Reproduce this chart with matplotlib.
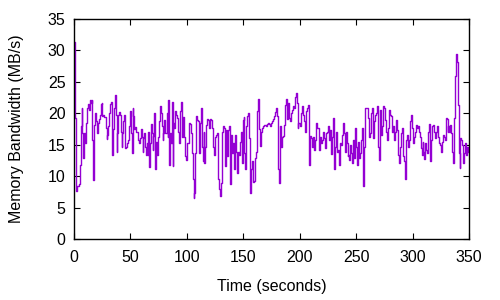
import numpy as np
import matplotlib
matplotlib.use("Agg")
import matplotlib.pyplot as plt

plt.rcParams['font.family'] = ['Liberation Sans', 'DejaVu Sans']

# Memory bandwidth samples (MB/s), in three time spans
bw_part1 = [31.3, 19.3, 7.6, 8.2, 8.4, 8.5, 8.7, 11.7, 17.9, 20.8, 16.8, 12.9, 16.8, 15.3, 18.4, 19.7,
            20.8, 21.5, 20.5, 22.1, 21.6, 22.1, 15.8, 9.4, 18.2, 20.0, 18.7, 16.8, 16.8, 18.5, 19.1,
            19.7, 21.5, 21.7, 19.5, 19.7, 19.4, 19.4, 17.7, 15.9, 16.5, 17.9, 20.0, 21.5, 21.8, 17.5,
            13.3, 17.5, 20.8, 22.9, 19.7, 13.8, 16.8, 19.7, 20.2, 19.7, 17.1, 14.7, 16.8, 18.7, 19.7,
            14.5, 14.7, 15.3, 15.6, 15.8, 18.0, 20.4, 16.8, 13.7, 20.9, 19.6, 17.5, 17.8, 17.1, 17.0,
            16.8, 15.8, 15.3, 16.1, 17.5, 16.3, 13.9, 16.1, 16.9, 14.7, 13.4, 15.3, 13.4, 17.1, 11.4,
            15.3, 18.3, 16.8, 14.2, 16.4, 20.0, 11.1, 15.5, 13.4, 14.5, 16.3, 18.7, 21.2, 20.0, 18.0,
            15.8, 16.8, 18.9, 16.9, 16.8, 20.0, 16.3, 22.1, 11.7, 16.8, 15.3, 21.8, 11.6, 18.4, 17.6,
            20.4, 19.7, 19.2, 18.9, 17.1, 15.3, 20.4, 21.8, 16.3, 19.4, 17.1, 16.3, 13.2, 12.6, 15.3,
            15.3, 16.3, 18.5, 18.3, 16.8, 13.7, 9.5, 6.6, 7.4, 13.7, 19.5, 18.9, 18.7, 16.8, 13.7,
            18.4, 20.8, 14.7, 12.4, 17.1, 12.1, 14.7, 18.2, 19.1, 18.9, 17.6]
bw_part2 = [17.6, 19.1, 18.9, 17.6, 14.7, 13.4, 16.3, 16.6, 16.8, 9.5, 7.9, 6.8, 8.9, 17.1, 18.0,
            17.6, 11.6, 14.5, 17.4, 13.2, 17.4, 17.9, 8.7, 16.6, 13.7, 15.3, 11.1, 16.6, 13.9, 10.5,
            13.9, 13.4, 15.5, 17.1, 12.1, 18.9, 19.4, 13.7, 11.1, 17.9, 19.5, 20.0, 16.1, 7.4, 11.1,
            12.4, 9.1, 9.2, 12.9, 13.9, 20.3, 22.3, 17.5, 14.8, 17.1, 17.6, 17.7, 18.0, 18.2, 18.2,
            18.0, 18.3, 18.5, 18.3, 17.9, 18.4, 18.8, 19.1, 19.5, 20.2, 20.8, 19.5, 11.1, 8.9, 14.3,
            18.0, 14.7, 16.3, 16.4, 18.2, 21.3, 22.3, 19.1, 21.6, 19.2, 18.8, 20.0, 20.5, 21.1, 20.8,
            22.6, 23.3, 21.6, 17.6, 18.4, 18.5, 17.9, 20.0, 21.1, 19.7, 18.7, 17.1, 20.3, 20.9, 21.3,
            11.8, 16.4, 16.1, 14.7, 16.3, 14.2, 15.8, 18.2, 18.4, 17.6, 17.6, 14.2, 16.3, 15.3, 15.8,
            17.1, 16.1, 14.5, 16.8, 17.1, 17.9, 15.8, 17.4, 13.6, 16.3, 19.2, 18.7, 11.1, 14.7, 17.1,
            13.9, 14.2]
bw_part3 = [11.7, 15.3, 15.0, 16.6, 18.4, 16.8, 13.9, 17.1, 15.3, 13.2, 13.4, 12.6, 15.0, 13.7, 12.1,
            15.8, 12.9, 17.6, 14.7, 11.8, 15.5, 12.9, 13.7, 13.9, 15.8, 17.6, 8.4, 14.7, 20.8, 20.8,
            20.8, 19.2, 16.3, 16.8, 20.0, 20.8, 18.7, 16.1, 18.7, 19.7, 20.0, 21.1, 14.7, 12.6, 20.5,
            16.6, 17.9, 21.2, 20.8, 20.3, 18.9, 17.1, 15.8, 17.6, 20.5, 19.7, 19.5, 17.1, 17.9, 15.8,
            17.1, 18.9, 17.4, 16.1, 13.4, 12.1, 14.7, 16.8, 17.6, 13.2, 12.4, 9.5, 15.8, 16.6, 14.7,
            15.8, 17.6, 18.7, 19.7, 17.6, 15.3, 16.3, 17.1, 18.2, 17.6, 17.9, 17.1, 16.2, 14.5, 13.4,
            15.5, 13.9, 12.7, 15.3, 14.2, 13.7, 17.1, 18.3, 12.4, 15.8, 17.9, 18.2, 17.1, 16.3, 16.1,
            17.1, 17.9, 16.3, 15.3, 15.0, 13.9, 15.5, 16.6, 16.3, 15.8, 19.2, 19.1, 17.1, 17.9, 17.1,
            18.2, 16.8, 13.8, 12.1, 19.2, 25.9, 29.4, 28.2, 21.3, 13.7, 11.3, 16.1, 15.8, 15.0, 12.1,
            13.7, 15.3, 13.4, 14.7, 13.9]
span_bounds = [0, 120, 235, 349]

x_ticks = [0, 50, 100, 150, 200, 250, 300, 350]
y_ticks = [0, 5, 10, 15, 20, 25, 30, 35]

parts = [bw_part1, bw_part2, bw_part3]
times, values = [], []
for i, p in enumerate(parts):
    last = i == len(parts) - 1
    times.append(np.linspace(span_bounds[i], span_bounds[i + 1], len(p), endpoint=last))
    values.append(np.array(p))
t = np.concatenate(times)
v = np.concatenate(values)

fig = plt.figure(figsize=(5, 3), dpi=100)
ax = fig.add_axes([0.148, 0.203, 0.79, 0.734])
ax.step(t, v, where='post', color='#9400D3', lw=1.0)

ax.set_xlim(0, 350)
ax.set_ylim(0, 35)
ax.set_xticks(x_ticks)
ax.set_yticks(y_ticks)
ax.tick_params(direction='in', length=4, width=0.8, top=True, right=True,
               labelsize=11.5, pad=6, colors='black')
ax.tick_params(axis='x', pad=8)
for s in ax.spines.values():
    s.set_linewidth(1.0)
    s.set_color('black')
ax.set_xlabel('Time (seconds)', fontsize=11.5, labelpad=10)
ax.set_ylabel('Memory Bandwidth (MB/s)', fontsize=11.5, labelpad=17)

fig.savefig('out.png', dpi=100)
